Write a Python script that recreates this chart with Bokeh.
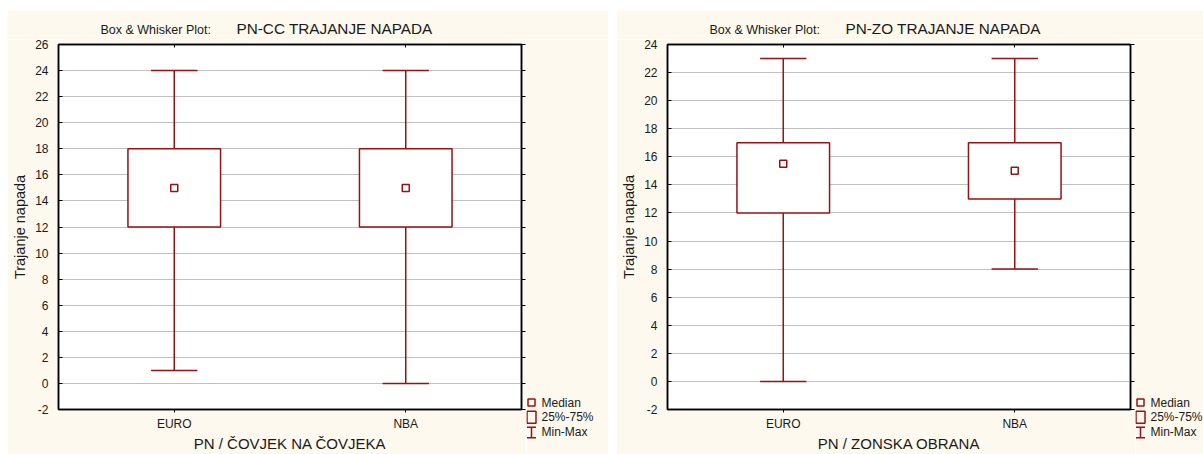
from bokeh.plotting import figure
from bokeh.models import (FactorRange, Range1d, LinearAxis, CategoricalAxis,
                          SingleIntervalTicker, ColumnDataSource, Spacer)
from bokeh.core.properties import value
from bokeh.transform import dodge
from bokeh.layouts import row, column
from bokeh.embed import file_html
from bokeh.resources import INLINE

# ---------------- data ----------------
categories = ["EURO", "NBA"]

cc_min = [1, 0]
cc_q1 = [12, 12]
cc_median = [15, 15]
cc_q3 = [18, 18]
cc_max = [24, 24]

zo_min = [0, 8]
zo_q1 = [12, 13]
zo_median = [15.5, 15]
zo_q3 = [17, 17]
zo_max = [23, 23]

legend_labels = ["Median", "25%-75%", "Min-Max"]

# ---------------- style ----------------
RED = "#9b1010"
BG = "#fdf9ee"
FONT = "Liberation Sans"
TXT = "#1a1a1a"
MAIN_W, MAIN_H = 519, 415
TITLE_H = 29


def no_align(f):
    if "frame_align" in f.properties():
        f.frame_align = False
    return f


def blank_fig(w, h):
    f = figure(width=w, height=h, x_range=Range1d(0, w), y_range=Range1d(0, h),
               x_axis_type=None, y_axis_type=None, title=None,
               output_backend="svg", toolbar_location=None, min_border=0)
    f.min_border_left = f.min_border_right = 0
    f.min_border_top = f.min_border_bottom = 0
    f.outline_line_color = None
    f.background_fill_color = BG
    f.border_fill_color = BG
    return no_align(f)


def title_fig(w, main_text):
    f = blank_fig(w, TITLE_H)
    f.text(x=[93], y=[10], text=["Box & Whisker Plot:"],
           text_font=value(FONT), text_font_size="12.5px", text_color=TXT,
           text_baseline="middle", text_align="left")
    f.text(x=[229], y=[11], text=[main_text],
           text_font=value(FONT), text_font_size="15.3px", text_color=TXT,
           text_baseline="middle", text_align="left")
    return f


def legend_fig(w):
    f = blank_fig(w, MAIN_H)
    cx = 5
    f.scatter(x=[cx], y=[52], marker="square", size=7, fill_color="white",
              fill_alpha=0, line_color=RED, line_width=1.5)
    f.quad(left=[cx - 4.5], right=[cx + 4.5], bottom=[31.3], top=[43.3],
           fill_alpha=0, line_color=RED, line_width=1.5)
    f.segment(x0=[cx - 4.5, cx - 4.5, cx], y0=[27.3, 16.7, 27.3],
              x1=[cx + 4.5, cx + 4.5, cx], y1=[27.3, 16.7, 16.7],
              line_color=RED, line_width=1.5)
    f.text(x=[15, 15, 15], y=[52, 38, 23], text=legend_labels,
           text_font=value(FONT), text_font_size="12px", text_color=TXT,
           text_baseline="middle", text_align="left")
    return f


def main_fig(xlabel, mins, q1s, meds, q3s, maxs, ymin, ymax):
    p = figure(x_range=FactorRange(factors=categories),
               y_range=Range1d(ymin, ymax),
               width=MAIN_W, height=MAIN_H, title=None,
               output_backend="svg", toolbar_location=None,
               min_border_left=51, min_border_right=5,
               min_border_top=5, min_border_bottom=45)
    no_align(p)
    p.background_fill_color = "white"
    p.border_fill_color = BG
    p.outline_line_color = "black"
    p.outline_line_width = 1.5

    src = ColumnDataSource(dict(cat=categories, lo=mins, q1=q1s, med=meds,
                                q3=q3s, hi=maxs))

    p.segment(x0="cat", y0="lo", x1="cat", y1="q1", source=src,
              line_color=RED, line_width=1.5)
    p.segment(x0="cat", y0="q3", x1="cat", y1="hi", source=src,
              line_color=RED, line_width=1.5)
    p.segment(x0=dodge("cat", -0.1, range=p.x_range), y0="lo",
              x1=dodge("cat", 0.1, range=p.x_range), y1="lo", source=src,
              line_color=RED, line_width=1.5)
    p.segment(x0=dodge("cat", -0.1, range=p.x_range), y0="hi",
              x1=dodge("cat", 0.1, range=p.x_range), y1="hi", source=src,
              line_color=RED, line_width=1.5)
    p.vbar(x="cat", width=0.4, bottom="q1", top="q3", source=src,
           fill_color="white", line_color=RED, line_width=1.5)
    p.scatter(x="cat", y="med", source=src, marker="square", size=7,
              fill_color="white", line_color=RED, line_width=1.5)

    p.xgrid.visible = False
    p.ygrid.grid_line_color = "#c0c0c0"
    p.ygrid.grid_line_width = 1

    p.yaxis.ticker = SingleIntervalTicker(interval=2)
    p.yaxis.major_label_overrides = {-2: "-2"}
    p.yaxis.major_tick_in = 4
    p.yaxis.major_tick_out = 0
    p.yaxis.minor_tick_line_color = None
    p.yaxis.major_label_standoff = 6
    p.yaxis.axis_label = "Trajanje napada"
    p.yaxis.axis_label_standoff = 4
    p.xaxis.major_tick_in = 0
    p.xaxis.major_tick_out = 3
    p.xaxis.major_label_standoff = 4
    p.xaxis.axis_label = xlabel
    p.xaxis.axis_label_standoff = 1
    for ax in (p.xaxis, p.yaxis):
        ax.axis_line_width = 1.5
        ax.axis_line_color = "black"
        ax.major_tick_line_color = "black"
        ax.major_label_text_font = FONT
        ax.major_label_text_font_size = "12px"
        ax.major_label_text_color = TXT
        ax.axis_label_text_font = FONT
        ax.axis_label_text_font_size = "15px"
        ax.axis_label_text_font_style = "normal"
        ax.axis_label_text_color = TXT
    p.yaxis.axis_label_text_font_size = "14.5px"

    right = LinearAxis(ticker=SingleIntervalTicker(interval=2))
    right.major_tick_in = 0
    right.major_tick_out = 4
    right.minor_tick_line_color = None
    right.major_label_text_font_size = "0px"
    right.major_label_text_color = None
    right.major_label_standoff = 0
    right.axis_line_width = 1.5
    p.add_layout(right, "right")

    top = CategoricalAxis()
    top.major_tick_in = 3
    top.major_tick_out = 0
    top.major_label_text_font_size = "0px"
    top.major_label_text_color = None
    top.major_label_standoff = 0
    top.axis_line_width = 1.5
    p.add_layout(top, "above")
    return p


def panel(width, main_title, xlabel, data, ymin, ymax):
    t = title_fig(width, main_title)
    m = main_fig(xlabel, *data, ymin, ymax)
    lg = legend_fig(width - MAIN_W)
    return column(t, row(m, lg, spacing=0), spacing=0)


panel1 = panel(601, "PN-CC  TRAJANJE NAPADA", "PN / ČOVJEK NA ČOVJEKA",
               (cc_min, cc_q1, cc_median, cc_q3, cc_max), -2, 26)
panel2 = panel(587, "PN-ZO  TRAJANJE NAPADA", "PN / ZONSKA OBRANA",
               (zo_min, zo_q1, zo_median, zo_q3, zo_max), -2, 24)

layout = column(
    Spacer(width=1203, height=10),
    row(Spacer(width=7, height=444), panel1, Spacer(width=8, height=444),
        panel2, spacing=0),
    spacing=0)
open("out.html", "w").write(file_html(layout, INLINE))
